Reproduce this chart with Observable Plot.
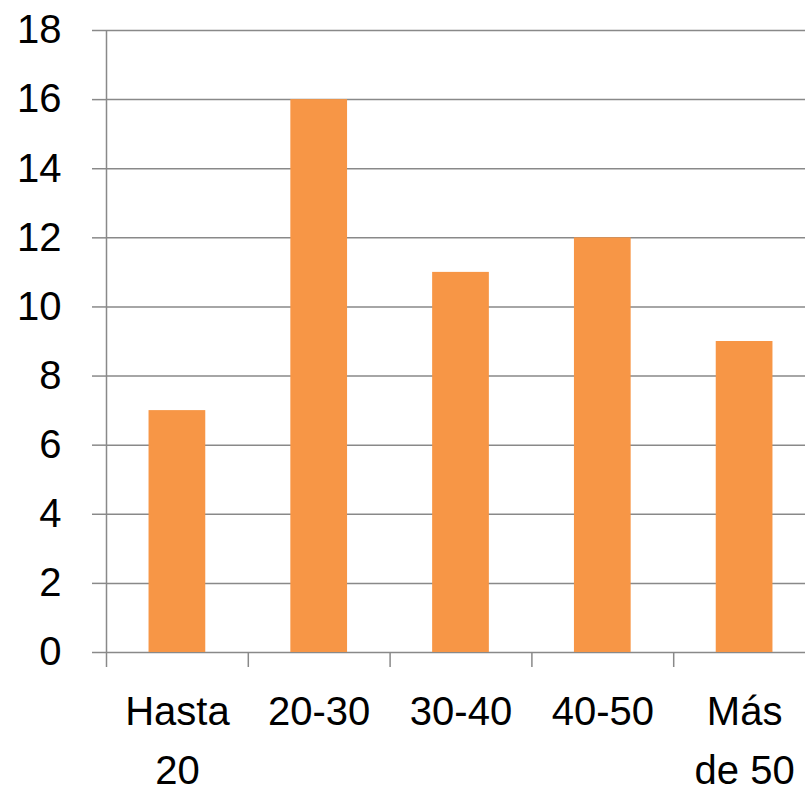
<!DOCTYPE html>
<html>
<head>
<meta charset="utf-8">
<script src="https://cdn.jsdelivr.net/npm/d3@7"></script>
<script src="https://cdn.jsdelivr.net/npm/@observablehq/plot@0.6"></script>
<style>
  html, body { margin: 0; padding: 0; background: #fff; overflow: hidden; }
  #chart { width: 805px; height: 791px; overflow: hidden; }
  #chart svg { max-width: none !important; }
</style>
</head>
<body>
<div id="chart"></div>
<script>
const categories = ["Hasta\n20", "20-30", "30-40", "40-50", "Más\nde 50"];
const values = [7, 16, 11, 12, 9];
const yTicks = [0, 2, 4, 6, 8, 10, 12, 14, 16, 18];

const data = categories.map((c, i) => ({cat: c, idx: i, value: values[i]}));
const boundaries = d3.range(categories.length + 1);
const gray = "#898989";
const font = "'Liberation Sans', Arial, sans-serif";

const chart = Plot.plot({
  width: 815,
  height: 791,
  marginLeft: 106,
  marginRight: 0,
  marginTop: 30,
  marginBottom: 139,
  style: {fontFamily: font, background: "#fff", color: "#000", maxWidth: "none"},
  x: {domain: [0, categories.length], axis: null},
  y: {domain: [0, 18], axis: null, label: null},
  marks: [
    Plot.gridY(yTicks, {stroke: gray, strokeOpacity: 1, strokeWidth: 1.5}),
    Plot.axisY({ticks: yTicks, label: null, tickSize: 14, tickPadding: 31, fontSize: 40, stroke: gray, strokeWidth: 1.5, fill: "#000", tickFormat: d => String(d)}),
    Plot.axisX({ticks: boundaries, label: null, tickSize: 15, tickFormat: () => "", stroke: gray, strokeWidth: 1.5}),
    Plot.ruleX([0], {stroke: gray, strokeWidth: 1.5}),
    Plot.rectY(data, {x1: d => d.idx + 0.3, x2: d => d.idx + 0.7, y: "value", fill: "#F79646"}),
    Plot.text(data, {x: d => d.idx + 0.5, y: 0, text: "cat", lineAnchor: "top", dy: 31, lineHeight: 1.47, fontSize: 40, fill: "#000"})
  ]
});
document.getElementById("chart").appendChild(chart);
</script>
</body>
</html>
